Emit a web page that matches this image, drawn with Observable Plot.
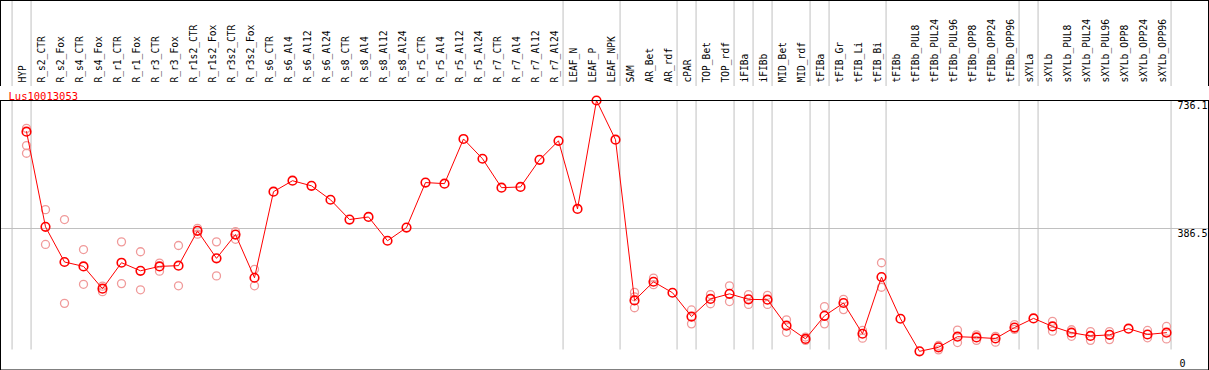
<!DOCTYPE html>
<html>
<head>
<meta charset="utf-8">
<script src="https://cdn.jsdelivr.net/npm/d3@7"></script>
<script src="https://cdn.jsdelivr.net/npm/@observablehq/plot@0.6"></script>
<style>
  html, body { margin: 0; padding: 0; background: #fff; }
  #chart svg { display: block; }
  #main { margin-top: -1px; }
</style>
</head>
<body>
<div id="chart"><div id="head"></div><div id="main"></div></div>
<script>
const title = "Lus10013053";
const categories = [
  "HYP","R_s2_CTR","R_s2_Fox","R_s4_CTR","R_s4_Fox","R_r1_CTR","R_r1_Fox","R_r3_CTR","R_r3_Fox",
  "R_r1s2_CTR","R_r1s2_Fox","R_r3s2_CTR","R_r3s2_Fox","R_s6_CTR","R_s6_Al4","R_s6_Al12","R_s6_Al24",
  "R_s8_CTR","R_s8_Al4","R_s8_Al12","R_s8_Al24","R_r5_CTR","R_r5_Al4","R_r5_Al12","R_r5_Al24",
  "R_r7_CTR","R_r7_Al4","R_r7_Al12","R_r7_Al24","LEAF_N","LEAF_P","LEAF_NPK","SAM","AR_Bet","AR_rdf",
  "cPAR","TOP_Bet","TOP_rdf","iFIBa","iFIBb","MID_Bet","MID_rdf","tFIBa","tFIB_Gr","tFIB_Li","tFIB_Bi",
  "tFIBb","tFIBb_PUL8","tFIBb_PUL24","tFIBb_PUL96","tFIBb_OPP8","tFIBb_OPP24","tFIBb_OPP96",
  "sXYLa","sXYLb","sXYLb_PUL8","sXYLb_PUL24","sXYLb_PUL96","sXYLb_OPP8","sXYLb_OPP24","sXYLb_OPP96"
];
const means = [
  651,391,295,283,222,293,271,283,285,380,305,370,252,487,517,503,465,411,418,353,389,512,509,631,577,
  498,500,574,626,440,736.1,629,190,241,211,146,194,208,193,192,121,85,148,183,99,254,140,51,62,91,89,
  86,116,141,119,102,93,96,113,97,102
];
const rep1 = [
  660,438,411,329,229,350,323,292,340,387,350,378,275,null,null,null,null,null,null,null,null,null,null,
  null,null,null,null,null,null,null,null,null,212,251,null,164,206,230,206,204,137,90,173,193,108,293,
  null,null,67,109,96,92,124,null,133,110,105,105,null,108,119
];
const rep2 = [
  613,343,182,234,214,236,219,270,230,371,257,357,230,null,null,null,null,null,null,null,null,null,null,
  null,null,null,null,null,null,null,null,null,170,233,null,126,181,187,179,179,103,81,126,165,87,226,
  null,null,55,75,81,76,111,null,106,92,81,83,null,88,85
];
const rep3 = [592,...Array(31).fill(null),200,...Array(28).fill(null)];
// group separators are drawn after these category indices
const separatorsAfter = [-1,0,28,31,34,35,37,38,39,41,42,45,52,53,60];
const yTicks = [0, 386.5, 736.1];
const gridValues = [386.5];

const W = 1209;
const font = "DejaVu Sans Mono, monospace";
const xScale = {type: "linear", domain: [0, categories.length - 1], range: [26, 1166], axis: null};
const sepOffset = 0.24;

const idx = categories.map((c, i) => i);
const meanData = idx.map(i => ({i, v: means[i]}));
const repData = [];
[rep1, rep2, rep3].forEach(r => r.forEach((v, i) => { if (v != null) repData.push({i, v}); }));
const seps = separatorsAfter.map(i => i + sepOffset);

const head = Plot.plot({
  width: W, height: 86,
  margin: 0, marginRight: 1,
  x: xScale,
  style: {fontFamily: font, background: "#fff"},
  marks: [
    Plot.ruleX(seps, {stroke: "#c0c0c0", strokeWidth: 1}),
    Plot.text(idx, {
      x: d => d, text: d => categories[d], rotate: -90, frameAnchor: "bottom",
      textAnchor: "start", dy: -4, dx: -1, fontSize: 9.6, fill: "#000"
    }),
    Plot.frame({stroke: "#000"})
  ]
});

const main = Plot.plot({
  width: W, height: 285,
  marginTop: 15, marginBottom: 0.5, marginLeft: 0, marginRight: 1,
  x: xScale,
  y: {domain: [0, 736.1], range: [284.5, 15], axis: null},
  style: {fontFamily: font, background: "#fff"},
  marks: [
    Plot.ruleX(seps, {stroke: "#c0c0c0", strokeWidth: 1, y1: 0, y2: 736.1, insetTop: -20}),
    Plot.ruleY(gridValues, {stroke: "#c0c0c0", strokeWidth: 1}),
    Plot.dot(repData, {x: "i", y: "v", r: 4, stroke: "#f09a9a", strokeWidth: 1.3, fill: "none"}),
    Plot.line(meanData, {x: "i", y: "v", stroke: "#ff0000", strokeWidth: 1}),
    Plot.dot(meanData, {x: "i", y: "v", r: 4.3, stroke: "#ff0000", strokeWidth: 1.6, fill: "none"}),
    Plot.text(yTicks.filter(t => t > 0), {
      y: d => d, text: d => String(d), frameAnchor: "right", textAnchor: "start",
      lineAnchor: "top", dx: -31, dy: 1, fontSize: 10, fill: "#000"
    }),
    Plot.text(yTicks.filter(t => t === 0), {
      y: d => d, text: d => String(d), frameAnchor: "right", textAnchor: "start",
      lineAnchor: "bottom", dx: -29, dy: -3, fontSize: 10, fill: "#000"
    }),
    Plot.text([title], {
      frameAnchor: "top-left", text: d => d, textAnchor: "start", lineAnchor: "top",
      dx: 8, dy: -8, fontSize: 10.5, fill: "#ff0000"
    }),
    Plot.frame({stroke: "#000"})
  ]
});

document.getElementById("head").appendChild(head);
document.getElementById("main").appendChild(main);
</script>
</body>
</html>
